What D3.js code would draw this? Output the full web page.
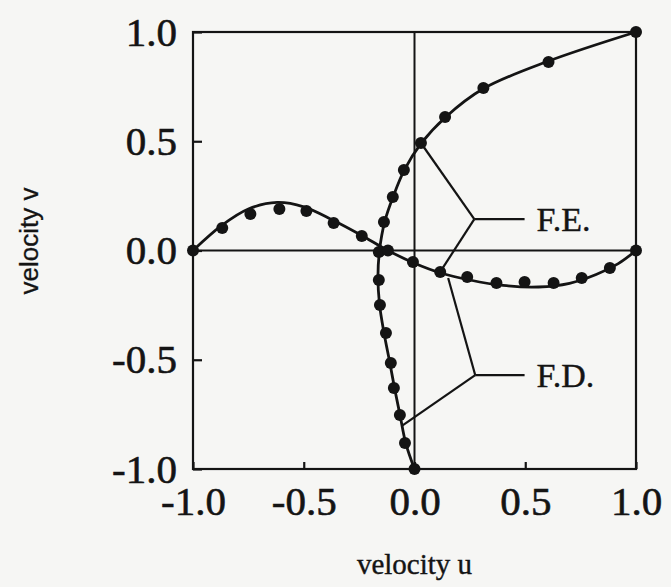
<!DOCTYPE html>
<html>
<head>
<meta charset="utf-8">
<script src="https://cdn.jsdelivr.net/npm/d3@7"></script>
<style>
  body { margin: 0; background: #f6f6f4; }
  svg { display: block; }
</style>
</head>
<body>
<svg></svg>
<script>
// Defining variables
const width = 671
const height = 587
const margin = {left: 193, right: 35, top: 32, bottom: 118}

const xTicks = [-1.0, -0.5, 0.0, 0.5, 1.0]
const yTicks = [-1.0, -0.5, 0.0, 0.5, 1.0]

// F.D. dots, u along vertical centreline (x = u, y = position)
const uDotsU = [0, -0.043, -0.066, -0.093, -0.107, -0.129, -0.156, -0.161, -0.161, -0.138, -0.098, -0.048, 0.029, 0.138, 0.311, 0.605, 1.0]
const uDotsV = [-1.0, -0.881, -0.753, -0.629, -0.515, -0.378, -0.249, -0.135, -0.007, 0.13, 0.245, 0.368, 0.492, 0.611, 0.744, 0.863, 1.0]

// F.D. dots, v along horizontal centreline
const vDotsU = [-1.0, -0.868, -0.741, -0.61, -0.488, -0.365, -0.238, -0.12, -0.007, 0.116, 0.238, 0.37, 0.497, 0.628, 0.755, 0.882, 1.0]
const vDotsV = [0, 0.103, 0.167, 0.19, 0.181, 0.126, 0.066, 0.0, -0.053, -0.098, -0.121, -0.149, -0.144, -0.149, -0.126, -0.08, 0]

// F.E. solution curves
const uLineU = [0, -0.04, -0.065, -0.09, -0.112, -0.138, -0.158, -0.165, -0.158, -0.135, -0.095, -0.045, 0.03, 0.14, 0.31, 0.6, 1.0]
const uLineV = [-1.0, -0.88, -0.755, -0.63, -0.51, -0.375, -0.245, -0.12, 0.0, 0.13, 0.25, 0.37, 0.49, 0.61, 0.74, 0.865, 1.0]

const vLineU = [-1.0, -0.87, -0.75, -0.62, -0.5, -0.37, -0.24, -0.12, 0.0, 0.12, 0.25, 0.4, 0.56, 0.7, 0.82, 0.92, 1.0]
const vLineV = [0, 0.115, 0.19, 0.22, 0.2, 0.14, 0.07, 0.0, -0.058, -0.103, -0.135, -0.16, -0.167, -0.15, -0.11, -0.06, 0]

// labels with leader lines (data units)
const labels = ['F.E.', 'F.D.']
const labelJoint = [[0.27, 0.144], [0.274, -0.57]]
const labelEnd = [[0.497, 0.144], [0.497, -0.57]]
const labelTargets = [
    [[0.029, 0.492], [0.116, -0.098]],
    [[0.152, -0.126], [-0.057, -0.803]]
]

const ink = '#141414'
const serif = '"Liberation Serif", "Times New Roman", serif'

const svg = d3.select('svg')
                .attr('width', width)
                .attr('height', height)

const xScale = d3.scaleLinear()
                .domain([-1, 1])
                .range([margin.left, width - margin.right])

const yScale = d3.scaleLinear()
                .domain([-1, 1])
                .range([height - margin.bottom, margin.top])

const fmt = d => d.toFixed(1)

// frame
svg.append('rect')
    .attr('x', xScale(-1))
    .attr('y', yScale(1))
    .attr('width', xScale(1) - xScale(-1))
    .attr('height', yScale(-1) - yScale(1))
    .attr('fill', 'none')
    .attr('stroke', ink)
    .attr('stroke-width', 2.2)

// zero lines
svg.append('line')
    .attr('x1', xScale(-1)).attr('x2', xScale(1))
    .attr('y1', yScale(0)).attr('y2', yScale(0))
    .attr('stroke', ink).attr('stroke-width', 2.2)
svg.append('line')
    .attr('x1', xScale(0)).attr('x2', xScale(0))
    .attr('y1', yScale(1)).attr('y2', yScale(-1))
    .attr('stroke', ink).attr('stroke-width', 2)

// axes
let xAxis = d3.axisBottom(xScale)
                .tickValues(xTicks)
                .tickFormat(fmt)
                .tickSizeInner(-7)
                .tickSizeOuter(0)
                .tickPadding(17)
svg.append('g')
    .attr('id', 'x-axis')
    .attr('transform', 'translate(0,' + yScale(-1) + ')')
    .call(xAxis)

let yAxis = d3.axisLeft(yScale)
                .tickValues(yTicks)
                .tickFormat(fmt)
                .tickSizeInner(-9)
                .tickSizeOuter(0)
                .tickPadding(16)
svg.append('g')
    .attr('id', 'y-axis')
    .attr('transform', 'translate(' + xScale(-1) + ',0)')
    .call(yAxis)

svg.selectAll('.domain').remove()
svg.selectAll('.tick line').attr('stroke', ink).attr('stroke-width', 2.2)
svg.selectAll('.tick text')
    .attr('fill', ink)
    .attr('stroke', ink)
    .attr('stroke-width', 0.6)
    .style('font-family', serif)
    .style('font-size', '41px')

// axis titles
svg.append('text')
    .attr('x', (xScale(-1) + xScale(1)) / 2)
    .attr('y', 574)
    .attr('text-anchor', 'middle')
    .attr('fill', ink)
    .attr('stroke', ink)
    .attr('stroke-width', 0.4)
    .style('font-family', serif)
    .style('font-size', '29px')
    .text('velocity u')

svg.append('text')
    .attr('transform', 'translate(38,' + 241 + ') rotate(-90)')
    .attr('text-anchor', 'middle')
    .attr('fill', ink)
    .attr('stroke', ink)
    .attr('stroke-width', 0.3)
    .style('font-family', '"Liberation Sans", Arial, sans-serif')
    .style('font-size', '26px')
    .text('velocity v')

// curves
const line = d3.line()
                .x(d => xScale(d[0]))
                .y(d => yScale(d[1]))
                .curve(d3.curveCatmullRom.alpha(0.5))

const curves = [d3.zip(uLineU, uLineV), d3.zip(vLineU, vLineV)]
svg.selectAll('path.curve')
    .data(curves)
    .enter()
    .append('path')
    .attr('class', 'curve')
    .attr('d', line)
    .attr('fill', 'none')
    .attr('stroke', ink)
    .attr('stroke-width', 2.8)

// dots
const dots = d3.zip(uDotsU, uDotsV).concat(d3.zip(vDotsU, vDotsV))
svg.selectAll('circle.dot')
    .data(dots)
    .enter()
    .append('circle')
    .attr('class', 'dot')
    .attr('cx', d => xScale(d[0]))
    .attr('cy', d => yScale(d[1]))
    .attr('r', 6)
    .attr('fill', ink)

// labels and leader lines
labels.forEach((lab, i) => {
    let j = labelJoint[i]
    labelTargets[i].forEach(t => {
        svg.append('line')
            .attr('x1', xScale(j[0])).attr('y1', yScale(j[1]))
            .attr('x2', xScale(t[0])).attr('y2', yScale(t[1]))
            .attr('stroke', ink).attr('stroke-width', 2.2)
    })
    svg.append('line')
        .attr('x1', xScale(j[0])).attr('y1', yScale(j[1]))
        .attr('x2', xScale(labelEnd[i][0])).attr('y2', yScale(labelEnd[i][1]))
        .attr('stroke', ink).attr('stroke-width', 2.2)
    svg.append('text')
        .attr('x', xScale(labelEnd[i][0]) + 12)
        .attr('y', yScale(labelEnd[i][1]))
        .attr('dy', '0.35em')
        .attr('fill', ink)
        .attr('stroke', ink)
        .attr('stroke-width', 0.4)
        .style('font-family', serif)
        .style('font-size', '34px')
        .text(lab)
})
</script>
</body>
</html>
